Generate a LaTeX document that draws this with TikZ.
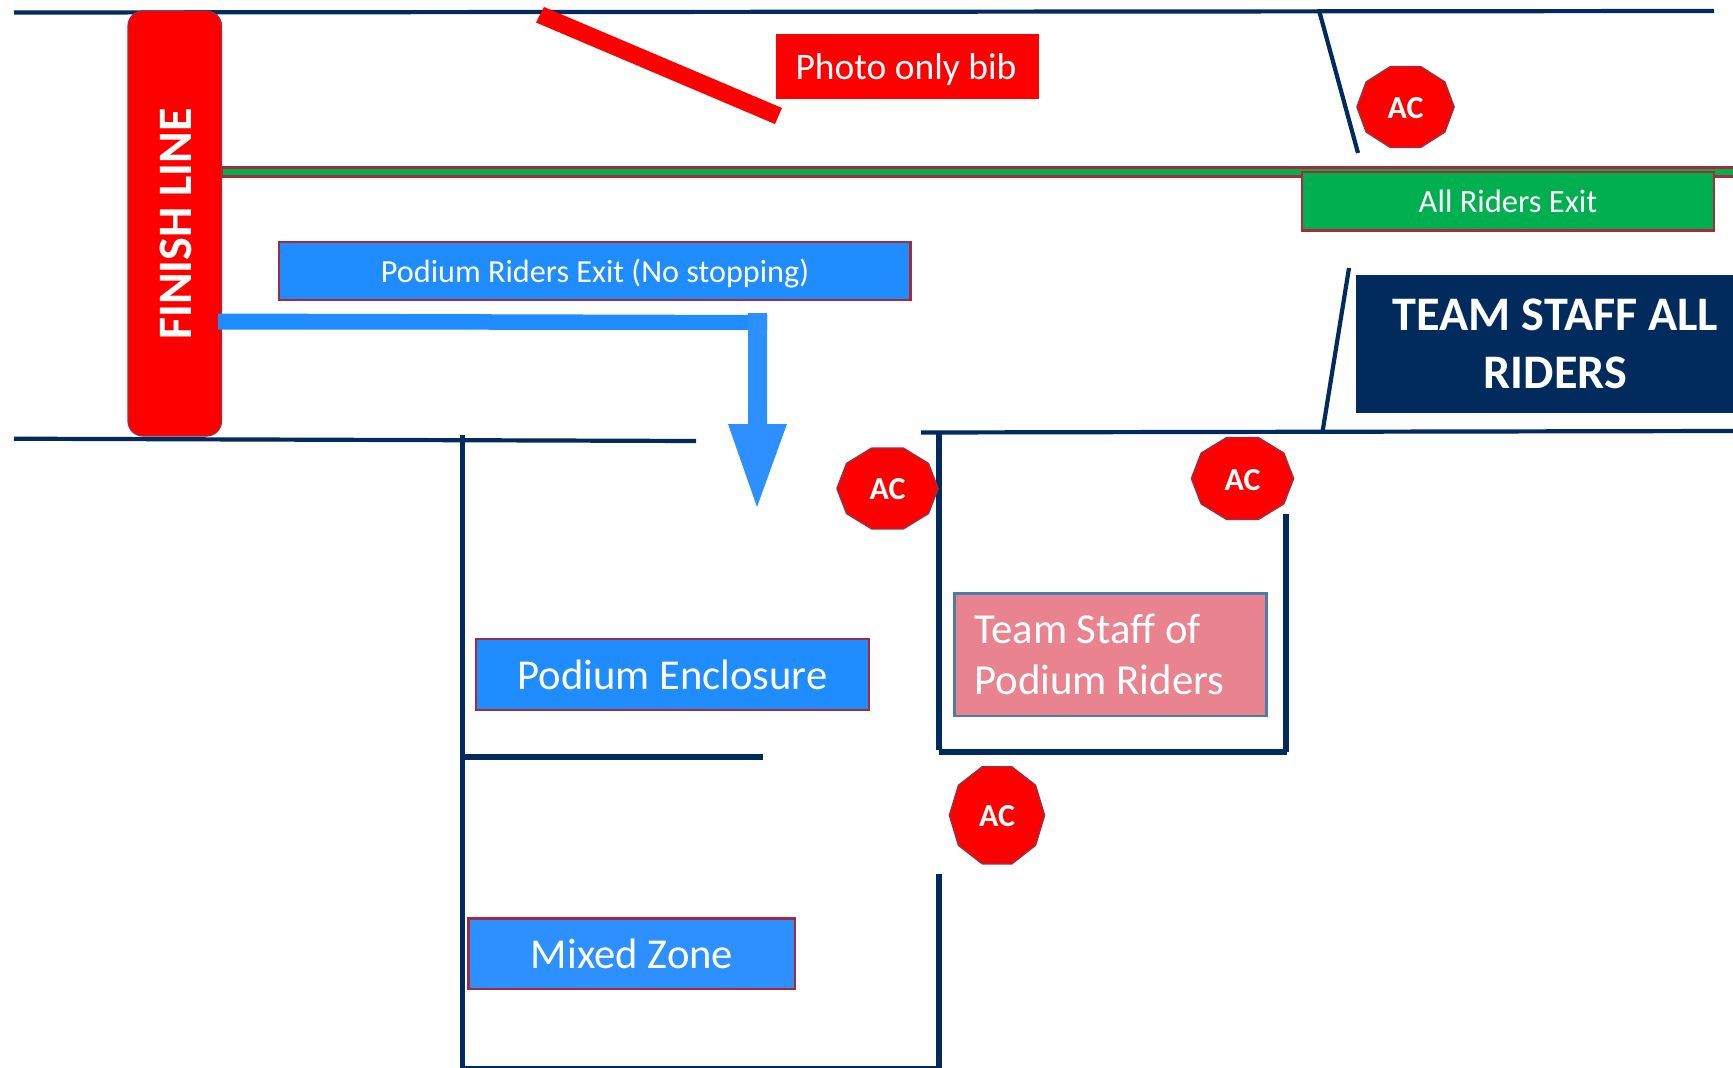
\documentclass[tikz,border=0pt]{standalone}
\usepackage{fontspec}
\setmainfont{Carlito}
\definecolor{navy}{HTML}{002B5C}
\definecolor{edgered}{HTML}{A52A3A}
\definecolor{signred}{HTML}{FF0000}
\definecolor{rgreen}{HTML}{00B050}
\definecolor{rblue}{HTML}{1F8CFF}
\definecolor{rblueb}{HTML}{2E90FF}
\definecolor{rpink}{HTML}{E8838F}
\definecolor{pinkedge}{HTML}{4A7EA8}
\newcommand{\fs}[1]{\fontsize{#1}{#1}\selectfont}
\tikzset{
  x=1pt,y=-1pt,
  wall/.style={draw=navy,line width=4.2pt},
  wallthick/.style={draw=navy,line width=6pt},
  wallv/.style={draw=navy,line width=5.2pt},
  boxedge/.style={draw=edgered,line width=2.6pt},
  lbl/.style={text=white,inner sep=0pt,anchor=base},
  acsign/.style={fill=signred,draw=edgered,line width=1.6pt,line join=round},
  aclbl/.style={lbl,font=\fs{32}\bfseries},
}
% centre x, centre y, rx, ry
\newcommand{\acshape}[4]{%
  \draw[acsign,shift={(#1,#2)}] (0:#3 and #4)
   -- (36:#3 and #4) -- (72:#3 and #4) -- (108:#3 and #4) -- (144:#3 and #4)
   -- (180:#3 and #4) -- (216:#3 and #4) -- (252:#3 and #4) -- (288:#3 and #4)
   -- (324:#3 and #4) -- cycle;}
\begin{document}
\begin{tikzpicture}
\useasboundingbox[fill=white] (0,0) rectangle (1733,1068);
% walls
\draw[wall] (14,12.5) -- (1714,11);
\draw[wall] (14,438.7) -- (696,441);
\draw[wall] (921,432.5) -- (1733,431);
\draw[wall] (1319.5,12) -- (1358,153);
\draw[wall] (1349,268) -- (1322.5,432);
\draw[wallv] (462.5,435) -- (462.5,1068);
\draw[wallv] (939,874) -- (939,1068);
\draw[draw=navy,line width=2.2pt] (462,1066.8) -- (941,1066.8);
\draw[wallthick] (462,757) -- (763,757);
\draw[wallv] (939,432) -- (939,750);
\draw[wallthick] (939,751.5) -- (1287,751.5);
\draw[wallv] (1286,514) -- (1286,752);
% green bar
\draw[boxedge,fill=rgreen] (222,167.3) rectangle (1740,176.2);
% finish line
\draw[fill=signred,draw=edgered,line width=1.2pt,rounded corners=15pt] (128,11) rectangle (221.5,436);
\node[lbl,rotate=90,font=\fs{48}\bfseries] (finish) at (191.7,224) {FINISH LINE};
% red slash
\fill[signred] (544,7) -- (536,22.5) -- (775,124) -- (782,108) -- cycle;
% photo
\fill[signred] (776,34) rectangle (1039,99);
\node[lbl,font=\fs{37.5}] (photo) at (906,79.5) {Photo only bib};
% exits
\draw[boxedge,fill=rgreen] (1302,172) rectangle (1714,230.5);
\node[lbl,font=\fs{32.5}] (allexit) at (1508,212) {All Riders Exit};
\draw[boxedge,fill=rblue] (279,242) rectangle (910.5,300);
\node[lbl,font=\fs{32.2}] (podexit) at (595,282) {Podium Riders Exit (No stopping)};
% arrow
\fill[rblue] (218,313.5) -- (767,315) -- (767,330) -- (218,329.5) -- cycle;
\fill[rblueb] (748,313) -- (767,313) -- (767,424) -- (787,424) -- (757,507) -- (728,424) -- (748,424) -- cycle;
% team staff
\fill[navy] (1356,274.5) rectangle (1733,413);
\node[lbl,font=\fs{48.2}\bfseries] (staffa) at (1555.5,330.5) {TEAM STAFF ALL};
\node[lbl,font=\fs{48.2}\bfseries] (staffb) at (1555.5,388) {RIDERS};
% enclosure
\draw[boxedge,fill=rblue] (476,639) rectangle (869,710);
\node[lbl,font=\fs{42.6}] (encl) at (672.5,689) {Podium Enclosure};
\draw[boxedge,fill=rblueb] (468.5,918.5) rectangle (795,989);
\node[lbl,font=\fs{42.6}] (mixed) at (632,968) {Mixed Zone};
\draw[draw=pinkedge,line width=2.2pt,fill=rpink] (954.5,593.5) rectangle (1266.5,716);
\node[lbl,anchor=base west,font=\fs{42.8}] (tsa) at (974,643) {Team Staff of};
\node[lbl,anchor=base west,font=\fs{42.8}] (tsb) at (974,694) {Podium Riders};
% AC
\acshape{1405.5}{107}{48.5}{42.5}
\node[aclbl] (ac1) at (1405.5,118.5) {AC};
\acshape{887.5}{488.5}{50.5}{42.5}
\node[aclbl] (ac2) at (887.5,499.6) {AC};
\acshape{1242.5}{478.5}{51}{43}
\node[aclbl] (ac3) at (1242.5,490) {AC};
\acshape{997}{815.3}{47.5}{51}
\node[aclbl] (ac4) at (997,826) {AC};
\end{tikzpicture}
\end{document}
